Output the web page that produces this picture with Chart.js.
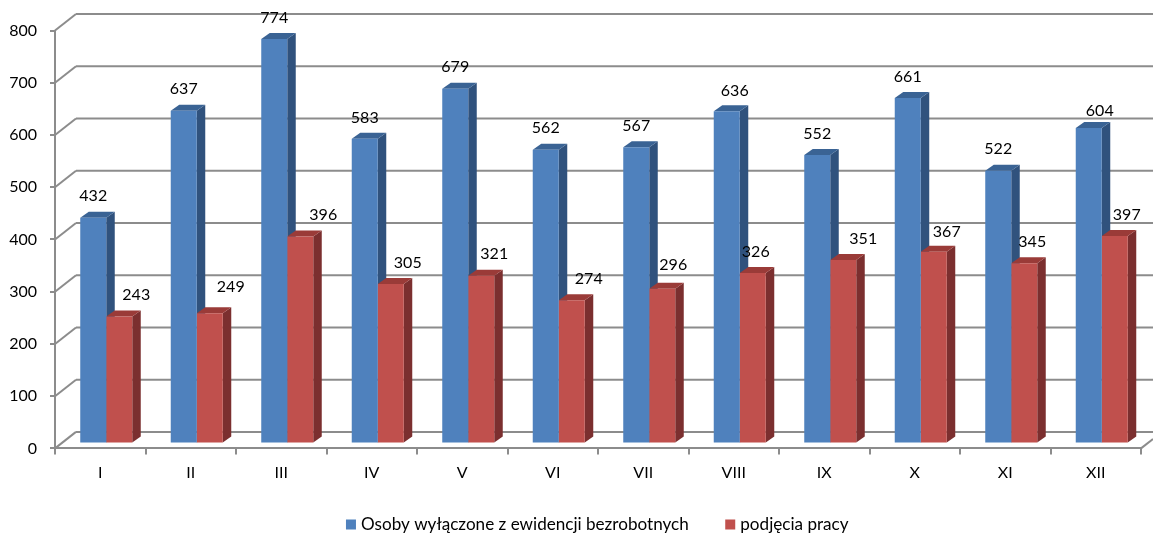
<!DOCTYPE html>
<html>
<head>
<meta charset="utf-8">
<title>Osoby wyłączone z ewidencji bezrobotnych</title>
<script src="https://cdn.jsdelivr.net/npm/chart.js@4/dist/chart.umd.min.js"></script>
<style>
    html, body { margin: 0; padding: 0; background: #fff; }
    canvas { display: block; }
</style>
</head>
<body>
<canvas id="chart" width="1153" height="533"></canvas>
<script>
var months = ["I", "II", "III", "IV", "V", "VI", "VII", "VIII", "IX", "X", "XI", "XII"];
var wylaczone = [432, 637, 774, 583, 679, 562, 567, 636, 552, 661, 522, 604];
var podjecia = [243, 249, 396, 305, 321, 274, 296, 326, 351, 367, 345, 397];
var yTicks = [0, 100, 200, 300, 400, 500, 600, 700, 800];

// hand placement of the value labels, relative to the default spot
var wylaczoneNudge = [[0, 0], [0, 0], [0, 0], [0, 0], [0, 0], [0, 0], [0, 0], [8, 1], [0, 0], [0, 0], [0, 0], [11, 4]];
var podjeciaNudge = [[17, 0], [21, -5], [23, 0], [17, 0], [13, 0], [17, 0], [11, -2], [3, 0], [20, 0], [13, 2], [8, 0], [12, 0]];

var FONT = "Lato, Carlito, sans-serif";
var GRID = "#8c8c8c";
// wall depth of the box and the shift of the bars into it
var WALL_X = 21, WALL_Y = -16.5;
var BAR_X = 6, BAR_Y = -5;
var DEPTH_X = 8.5, DEPTH_Y = -6;
// where the legend sits relative to its default box
var LEGEND_X = 28.5, LEGEND_Y = -20;

function line(ctx, x1, y1, x2, y2) {
    ctx.beginPath();
    ctx.moveTo(x1, y1);
    ctx.lineTo(x2, y2);
    ctx.stroke();
}

function quad(ctx, pts, color) {
    ctx.fillStyle = color;
    ctx.beginPath();
    ctx.moveTo(pts[0], pts[1]);
    ctx.lineTo(pts[2], pts[3]);
    ctx.lineTo(pts[4], pts[5]);
    ctx.lineTo(pts[6], pts[7]);
    ctx.closePath();
    ctx.fill();
}

var box3d = {
    id: "box3d",
    afterLayout: function(chart) {
        var lg = chart.legend;
        lg.left += LEGEND_X;
        lg.right += LEGEND_X;
        lg.top += LEGEND_Y;
        lg.bottom += LEGEND_Y;
    },
    beforeDatasetsDraw: function(chart) {
        var ctx = chart.ctx, area = chart.chartArea, y = chart.scales.y;
        ctx.save();
        // back wall, floor and the slanted lines coming off the axis
        ctx.strokeStyle = GRID;
        ctx.lineWidth = 2;
        yTicks.forEach(function(v) {
            var py = y.getPixelForValue(v);
            line(ctx, area.left, py, area.left + WALL_X, py + WALL_Y);
            line(ctx, area.left + WALL_X, py + WALL_Y, chart.width, py + WALL_Y);
        });
        line(ctx, area.right, area.bottom, chart.width, area.bottom + WALL_Y * 12 / WALL_X);
        // side and top faces first, the library paints the fronts over them
        ctx.translate(BAR_X, BAR_Y);
        chart.data.datasets.forEach(function(ds, i) {
            chart.getDatasetMeta(i).data.forEach(function(bar) {
                var l = bar.x - bar.width / 2, r = bar.x + bar.width / 2;
                quad(ctx, [r, bar.y, r + DEPTH_X, bar.y + DEPTH_Y, r + DEPTH_X, bar.base + DEPTH_Y, r, bar.base], ds.sideColor);
                quad(ctx, [l, bar.y, l + DEPTH_X, bar.y + DEPTH_Y, r + DEPTH_X, bar.y + DEPTH_Y, r, bar.y], ds.topColor);
            });
        });
        ctx.restore();
        ctx.save();
        ctx.translate(BAR_X, BAR_Y);
    },
    afterDatasetsDraw: function(chart) {
        var ctx = chart.ctx;
        ctx.restore();
        ctx.save();
        ctx.font = "16px " + FONT;
        ctx.fillStyle = "#000";
        ctx.textAlign = "center";
        ctx.textBaseline = "middle";
        chart.data.datasets.forEach(function(ds, i) {
            chart.getDatasetMeta(i).data.forEach(function(bar, j) {
                ctx.fillText(ds.data[j], bar.x + BAR_X + ds.nudge[j][0], bar.y + BAR_Y - 21.5 + ds.nudge[j][1]);
            });
        });
        ctx.restore();
    }
};

Chart.defaults.font.family = FONT;
Chart.defaults.font.size = 16;
Chart.defaults.color = "#000";

new Chart(document.getElementById("chart").getContext("2d"), {
    type: "bar",
    data: {
        labels: months,
        datasets: [{
            label: "Osoby wyłączone z ewidencji bezrobotnych",
            data: wylaczone,
            backgroundColor: "#4f81bd",
            sideColor: "#30527d",
            topColor: "#3a6394",
            nudge: wylaczoneNudge,
            clip: false
        }, {
            label: "podjęcia pracy",
            data: podjecia,
            backgroundColor: "#c0504d",
            sideColor: "#7b2f2f",
            topColor: "#9a3b38",
            nudge: podjeciaNudge,
            clip: false
        }]
    },
    plugins: [box3d],
    options: {
        responsive: false,
        animation: false,
        events: [],
        layout: { padding: { top: 30.5, right: 12, bottom: -30 } },
        barPercentage: 1,
        categoryPercentage: 0.5746,
        plugins: {
            tooltip: { enabled: false },
            legend: {
                position: "bottom",
                labels: {
                    usePointStyle: true,
                    pointStyle: "rect",
                    boxWidth: 3,
                    boxHeight: 10,
                    padding: 40,
                    color: "#000",
                    font: { size: 17.1 }
                }
            }
        },
        scales: {
            x: {
                grid: { drawOnChartArea: false, color: GRID, lineWidth: 2, tickLength: 6 },
                border: { color: GRID, width: 2 },
                ticks: { padding: 9, font: { size: 16 } },
                afterFit: function(s) { s.height = 47.5; }
            },
            y: {
                min: 0,
                max: 800,
                grid: { drawOnChartArea: false, color: GRID, lineWidth: 2, tickLength: 5 },
                border: { color: GRID, width: 2 },
                ticks: { stepSize: 100, padding: 13, font: { size: 16 } },
                afterFit: function(s) { s.width = 55; }
            }
        }
    }
});
</script>
</body>
</html>
